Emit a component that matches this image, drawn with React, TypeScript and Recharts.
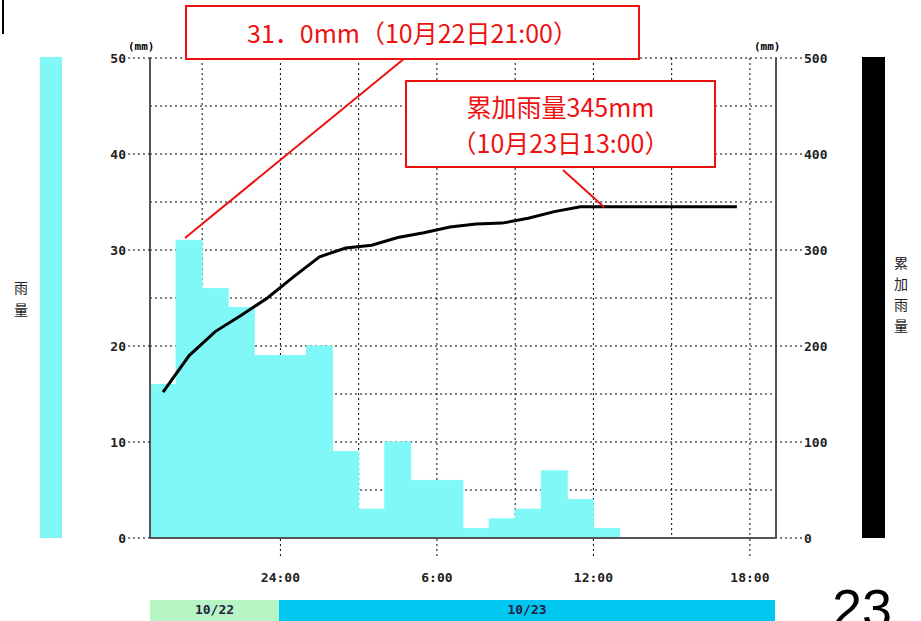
import React from "react";
import { ComposedChart, Bar, Line, XAxis, YAxis, CartesianGrid } from "recharts";

const hours = [0.5,1.5,2.5,3.5,4.5,5.5,6.5,7.5,8.5,9.5,10.5,11.5,12.5,13.5,14.5,15.5,16.5,17.5,18.5,19.5,20.5,21.5,22.5,23.5];
const rain = [16,31,26,24,19,19,20,9,3,10,6,6,1,2,3,7,4,1,0,0,0,0,0,0];
const cumulative = [152,190,215,232,250,272,293,302,305,313,318,324,327,328,333,340,345,345,345,345,345,345,345,null];
const xTicks = [5,11,17,23];
const xTickLabels = ["24:00","6:00","12:00","18:00"];
const leftTicks = [0,10,20,30,40,50];
const rightTicks = [0,100,200,300,400,500];

const data = hours.map((h, i) => ({ h, rain: rain[i], cum: cumulative[i] }));
const tickFont = { fontFamily: "DejaVu Sans Mono", fontWeight: 700, fontSize: 13, fill: "#222" };
const red = "#ee1111";

export default function App() {
  return (
    <div style={{ position: "absolute", left: 0, top: 0, width: 921, height: 621, background: "#fff", overflow: "hidden", fontFamily: "Noto Sans CJK JP" }}>
      <div style={{ position: "absolute", left: 2, top: 0, width: 2, height: 34, background: "#000" }} />
      <div style={{ position: "absolute", left: 40, top: 57, width: 22, height: 481, background: "#80f8f8" }} />
      <div style={{ position: "absolute", left: 862, top: 57, width: 23, height: 481, background: "#000" }} />
      <div style={{ position: "absolute", left: 12, top: 276, width: 18, fontSize: 14, lineHeight: "22px", color: "#222", textAlign: "center" }}>雨<br />量</div>
      <div style={{ position: "absolute", left: 892, top: 252, width: 18, fontSize: 14, lineHeight: "21px", color: "#222", textAlign: "center" }}>累<br />加<br />雨<br />量</div>
      <div style={{ position: "absolute", left: 0, top: 0 }}>
        <ComposedChart width={921} height={621} data={data} margin={{ left: 90, right: 85, top: 58, bottom: 43 }} barGap={0} barCategoryGap={0}>
          <CartesianGrid stroke="#000" strokeDasharray="2 3" yAxisId="l"
            horizontalValues={[5,10,15,20,25,30,35,40,45,50]} verticalValues={[2,5,8,11,14,17,20,23]} />
          <XAxis type="number" dataKey="h" domain={[0, 24]} ticks={xTicks} xAxisId={0}
            tickFormatter={(v: number) => xTickLabels[xTicks.indexOf(v)]}
            tick={tickFont} tickSize={18} tickMargin={17}
            tickLine={{ stroke: "#000", strokeDasharray: "2 3" }} axisLine={{ stroke: "#555", strokeWidth: 2 }} height={40} />
          <YAxis yAxisId="l" domain={[0, 50]} ticks={leftTicks} tick={tickFont} width={60} tickSize={22} tickMargin={2}
            tickLine={{ stroke: "#000", strokeDasharray: "2 3" }} axisLine={{ stroke: "#555", strokeWidth: 2 }} />
          <YAxis yAxisId="r" orientation="right" domain={[0, 500]} ticks={rightTicks} tick={tickFont} width={60} tickSize={26} tickMargin={2}
            tickLine={{ stroke: "#000", strokeDasharray: "2 3" }} axisLine={{ stroke: "#555", strokeWidth: 2 }} />
          <Bar yAxisId="l" dataKey="rain" fill="#80f8f8" stroke="#80f8f8" strokeWidth={1} isAnimationActive={false} />
          <Line yAxisId="r" dataKey="cum" stroke="#000" strokeWidth={3} dot={false} isAnimationActive={false} connectNulls={false} />
        </ComposedChart>
      </div>
      <div style={{ position: "absolute", left: 128, top: 40, fontFamily: "DejaVu Sans Mono", fontWeight: 700, fontSize: 11 }}>(mm)</div>
      <div style={{ position: "absolute", left: 754, top: 40, fontFamily: "DejaVu Sans Mono", fontWeight: 700, fontSize: 11 }}>(mm)</div>
      <svg style={{ position: "absolute", left: 0, top: 0 }} width={921} height={621}>
        <line x1={185} y1={238} x2={405} y2={58} stroke={red} strokeWidth={2} />
        <line x1={563} y1={170} x2={604} y2={207} stroke={red} strokeWidth={2} />
      </svg>
      <div style={{ position: "absolute", left: 185, top: 5, width: 451, height: 51, border: `2px solid ${red}`, background: "#fff", color: red, fontSize: 25, lineHeight: "51px", textAlign: "center", whiteSpace: "nowrap" }}>31．0mm（10月22日21:00）</div>
      <div style={{ position: "absolute", left: 405, top: 80, width: 311, height: 88, border: `2px solid ${red}`, background: "#fff", color: red, fontSize: 25, lineHeight: "36px", paddingTop: 6, boxSizing: "border-box", textAlign: "center", whiteSpace: "nowrap" }}>
        累加雨量345mm<br />（10月23日13:00）
      </div>
      <div style={{ position: "absolute", left: 150, top: 600, width: 129, height: 21, background: "#b8f5c4", textAlign: "center", fontFamily: "DejaVu Sans Mono", fontWeight: 700, fontSize: 13, lineHeight: "20px", color: "#224" }}>10/22</div>
      <div style={{ position: "absolute", left: 279, top: 600, width: 496, height: 21, background: "#00c6f0", textAlign: "center", fontFamily: "DejaVu Sans Mono", fontWeight: 700, fontSize: 13, lineHeight: "20px", color: "#224" }}>10/23</div>
      <div style={{ position: "absolute", left: 832, top: 578, fontFamily: "Liberation Sans", fontSize: 54, lineHeight: "60px", color: "#000" }}>23</div>
    </div>
  );
}
